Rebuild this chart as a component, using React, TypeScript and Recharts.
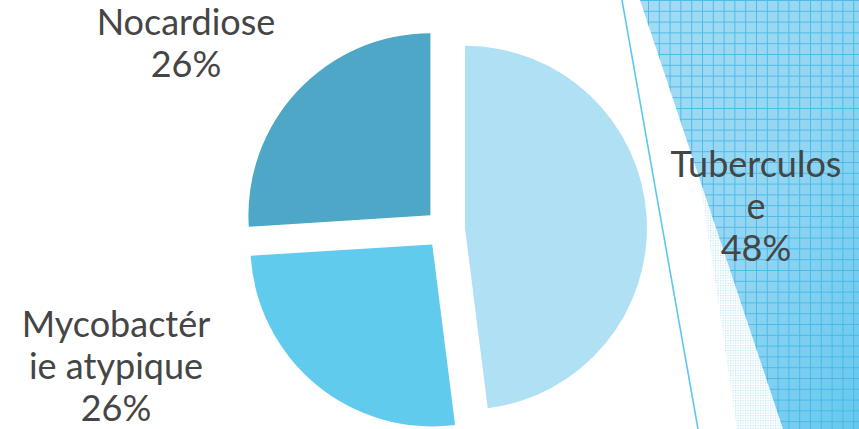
import React from 'react';
import { PieChart, Pie, Cell } from 'recharts';

const categories = ['Tuberculose', 'Mycobactérie atypique', 'Nocardiose'];
const values = [48, 26, 26];
const percentLabels = ['48%', '26%', '26%'];
// wrapped the way the text box breaks the words
const labelLines = [['Tuberculos', 'e'], ['Mycobactér', 'ie atypique'], ['Nocardiose']];
const colors = ['#B0E0F4', '#61CBEE', '#4EA7C6'];

const W = 859;
const H = 429;
const CX = 445;
const CY = 229;
const R = 182;
const EXPLODE = 20;
const START = 90;
const END = -270;

// label box centres (x, first baseline)
const labelPos = [
  { x: 756, y: 177 },
  { x: 116, y: 337 },
  { x: 186, y: 35 },
];

const data = categories.map((name, i) => ({ name, value: values[i] }));

const total = values.reduce((a, b) => a + b, 0);
const midAngles = values.map((v, i) => {
  const before = values.slice(0, i).reduce((a, b) => a + b, 0);
  return START + ((END - START) * (before + v / 2)) / total;
});

const RAD = Math.PI / 180;

const makeLabel = (slice: number) => (props: any) => {
  if (props.index !== slice) return null;
  const pos = labelPos[slice];
  const lines = [...labelLines[slice], percentLabels[slice]];
  return (
    <text
      x={pos.x}
      y={pos.y}
      textAnchor="middle"
      fill="#454545"
      fontFamily="Lato, 'Open Sans', sans-serif"
      fontSize={36}
    >
      {lines.map((l, k) => (
        <tspan key={k} x={pos.x} y={pos.y + k * 42}>
          {l}
        </tspan>
      ))}
    </text>
  );
};

function Backdrop() {
  return (
    <svg width={W} height={H} style={{ position: 'absolute', left: 0, top: 0 }}>
      <defs>
        <linearGradient id="bgGrad" x1="0" y1="0" x2="1" y2="1">
          <stop offset="0%" stopColor="#A3DCF4" />
          <stop offset="55%" stopColor="#92D5F2" />
          <stop offset="100%" stopColor="#66C8EE" />
        </linearGradient>
        <pattern id="grid" width="10.8" height="10.8" patternUnits="userSpaceOnUse">
          <line x1="0.5" y1="0" x2="0.5" y2="10.8" stroke="#3FB6E6" strokeWidth="1" />
          <line x1="0" y1="0.5" x2="10.8" y2="0.5" stroke="#3FB6E6" strokeWidth="1" />
        </pattern>
        <pattern id="halftone" width="2.5" height="2.5" patternUnits="userSpaceOnUse">
          <rect x="0" y="0" width="1.2" height="1.2" fill="#A6DDF5" />
        </pattern>
      </defs>
      <polygon points="700,180 783,429 737,429" fill="url(#halftone)" opacity="0.8" />
      <polygon points="640,0 859,0 859,429 783,429" fill="url(#bgGrad)" />
      <polygon points="640,0 859,0 859,429 783,429" fill="url(#grid)" opacity="0.85" />
      <line x1="622" y1="0" x2="698" y2="429" stroke="#5CC8EE" strokeWidth="1.6" />
    </svg>
  );
}

export default function App() {
  return (
    <div style={{ position: 'absolute', left: 0, top: 0, width: W, height: H, background: '#fff' }}>
      <Backdrop />
      <div style={{ position: 'absolute', left: 0, top: 0 }}>
        <PieChart width={W} height={H} margin={{ top: 0, right: 0, bottom: 0, left: 0 }}>
          {categories.map((cat, s) => (
            <Pie
              key={cat}
              data={data}
              dataKey="value"
              nameKey="name"
              cx={CX + EXPLODE * Math.cos(midAngles[s] * RAD)}
              cy={CY - EXPLODE * Math.sin(midAngles[s] * RAD)}
              outerRadius={R}
              startAngle={START}
              endAngle={END}
              stroke="none"
              isAnimationActive={false}
              labelLine={false}
              label={makeLabel(s)}
            >
              {data.map((d, i) => (
                <Cell key={d.name} fill={i === s ? colors[i] : 'transparent'} />
              ))}
            </Pie>
          ))}
        </PieChart>
      </div>
    </div>
  );
}
